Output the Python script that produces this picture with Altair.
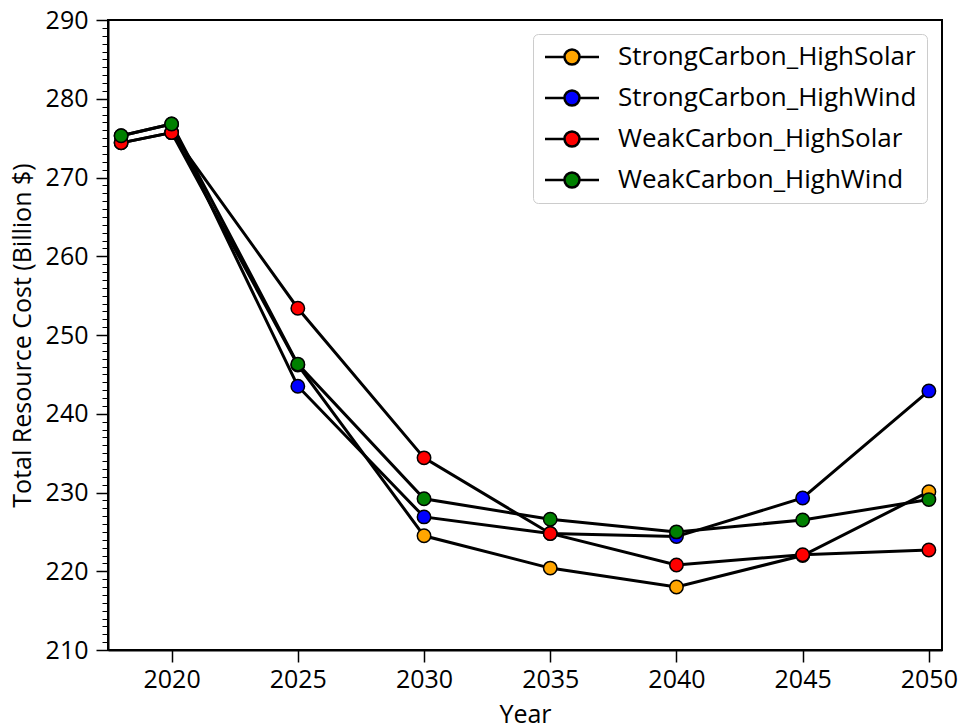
import altair as alt
import pandas as pd

years = [2018, 2020, 2025, 2030, 2035, 2040, 2045, 2050]
series_names = ["StrongCarbon_HighSolar", "StrongCarbon_HighWind",
                "WeakCarbon_HighSolar", "WeakCarbon_HighWind"]
strong_solar = [274.4, 275.7, 246.2, 224.5, 220.4, 218.0, 222.0, 230.1]
strong_wind = [275.3, 276.8, 243.5, 226.9, 224.8, 224.4, 229.3, 242.9]
weak_solar = [274.4, 275.7, 253.4, 234.4, 224.8, 220.8, 222.1, 222.7]
weak_wind = [275.3, 276.8, 246.3, 229.2, 226.6, 225.0, 226.5, 229.1]
series_colors = ["#FFA500", "#0000FF", "#FF0000", "#008000"]

x_ticks = [2020, 2025, 2030, 2035, 2040, 2045, 2050]
y_major = list(range(210, 291, 10))
y_minor = list(range(210, 291, 1))

rows = []
for k, (name, vals) in enumerate(zip(series_names, [strong_solar, strong_wind, weak_solar, weak_wind])):
    for yr, v in zip(years, vals):
        rows.append({"series": name, "year": yr, "value": v, "order": k})
df = pd.DataFrame(rows)

FONT = "Open Sans"
x_scale = alt.Scale(domain=[2017.48, 2050.52], nice=False, zero=False)
y_scale = alt.Scale(domain=[210, 290], nice=False, zero=False)

x_axis = alt.Axis(values=x_ticks, format="d", title="Year", tickSize=12,
                  labelPadding=5, titlePadding=10, grid=False,
                  domainColor="black", domainWidth=2,
                  tickColor="black", tickWidth=1.5)

legend_path = ("M-2.7,0L-0.75,0M0.75,0L2.7,0"
               "M-0.75,0A0.75,0.75,0,1,1,0.75,0A0.75,0.75,0,1,1,-0.75,0Z")

lines = alt.Chart(df).mark_line(color="black", strokeWidth=3).encode(
    x=alt.X("year:Q", scale=x_scale, axis=x_axis),
    y=alt.Y("value:Q", scale=y_scale,
            axis=alt.Axis(orient="left", values=y_major, format="d",
                          title="Total Resource Cost (Billion $)", tickSize=12,
                          labelPadding=8, titlePadding=10, grid=False,
                          domainColor="black", domainWidth=2,
                          tickColor="black", tickWidth=1.5)),
    detail="series:N",
    order="year:Q",
)

points = alt.Chart(df).mark_circle(size=180, opacity=1, stroke="black", strokeWidth=1.5).encode(
    x=alt.X("year:Q", scale=x_scale, axis=x_axis),
    y=alt.Y("value:Q", scale=y_scale, axis=None),
    fill=alt.Fill("series:N",
                  scale=alt.Scale(domain=series_names, range=series_colors),
                  legend=alt.Legend(orient="none", legendX=425, legendY=14,
                                    title=None, symbolType=legend_path, symbolSize=400,
                                    symbolStrokeColor="black", symbolStrokeWidth=2.5,
                                    symbolOpacity=1,
                                    labelFont=FONT, labelFontSize=26, labelColor="black",
                                    labelLimit=500, padding=10, rowPadding=15,
                                    symbolOffset=16, labelOffset=33,
                                    cornerRadius=5, strokeColor="#cccccc",
                                    fillColor="white")),
    order="order:Q",
)

minor = alt.Chart(df).mark_tick(opacity=0).encode(
    y=alt.Y("value:Q", scale=y_scale,
            axis=alt.Axis(orient="left", values=y_minor, tickSize=6, labels=False,
                          domain=False, title=None, grid=False,
                          tickColor="black", tickWidth=1)),
)

chart = alt.layer(minor, lines, points).resolve_axis(y="independent").properties(
    width=834, height=630,
    autosize=alt.AutoSizeParams(type="none"),
    padding={"left": 108, "top": 20, "right": 19, "bottom": 77},
    background="white",
).configure_view(stroke="black", strokeWidth=2).configure_axis(
    labelFont=FONT, labelFontSize=25, labelColor="black",
    titleFont=FONT, titleFontSize=25, titleFontWeight="normal", titleColor="black",
)

chart.save("out.html", embed_options={"renderer": "svg", "actions": False})
